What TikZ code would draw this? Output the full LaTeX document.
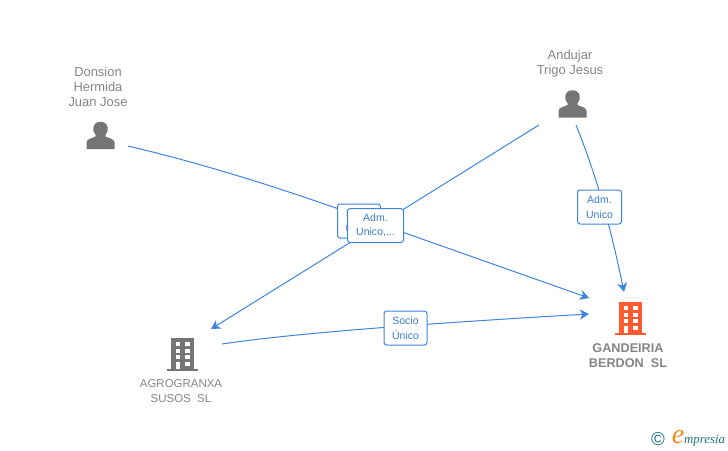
\documentclass[tikz,border=0pt]{standalone}
\usepackage{fontspec}
\setmainfont{Liberation Sans}
\newfontfamily\logofont{Liberation Serif}
\definecolor{linkblue}{HTML}{3D85E0}
\definecolor{labelblue}{HTML}{3A7CCB}
\definecolor{icongray}{HTML}{757575}
\definecolor{textgray}{HTML}{858585}
\definecolor{firmred}{HTML}{FF5A30}
\definecolor{logoteal}{HTML}{1F6F85}
\definecolor{logoorange}{HTML}{F28A1C}
\usetikzlibrary{arrows.meta}
\tikzset{
  link/.style={draw=linkblue,line width=0.75pt},
  arrowlink/.style={link,-{Stealth[length=6.8pt,width=7.5pt,inset=2pt]}},
  tagbox/.style={draw=linkblue,fill=white,rounded corners=2pt,line width=0.75pt,
    text=labelblue,font=\fontsize{7.9pt}{11pt}\selectfont,align=center,inner sep=0pt},
  person/.style={font=\fontsize{9.7pt}{11.3pt}\selectfont,text=textgray,align=center,inner sep=0pt},
  firm/.style={font=\fontsize{8.6pt}{11pt}\selectfont,text=textgray,align=center,inner sep=0pt},
  firmbold/.style={font=\bfseries\fontsize{9.5pt}{11.2pt}\selectfont,text=textgray,align=center,inner sep=0pt},
}
\newcommand{\personicon}[2]{%
  \fill[icongray,shift={(#1,#2)}] (-14,14) -- (-14,7.5) .. controls (-14,4) and (-9,3.5) .. (-5,1.5)
    -- (-5,-0.5) .. controls (-7.5,-3) and (-7.5,-6) .. (-7,-8)
    .. controls (-6,-15) and (6,-15) .. (7,-8)
    .. controls (7.5,-6) and (7.5,-3) .. (5,-0.5) -- (5,1.5)
    .. controls (9,3.5) and (14,4) .. (14,7.5) -- (14,14) -- cycle;}
\newcommand{\buildingicon}[3]{%
  \begin{scope}[shift={(#1,#2)}]
    \fill[#3] (-11.5,-16.5) rectangle (11.5,14.5);
    \fill[#3] (-15.5,14) rectangle (15.5,16.5);
    \foreach \yy in {-12.5,-5.8,0.9} {
      \fill[white] (-7,\yy) rectangle (-2.8,{\yy+3.9});
      \fill[white] (2.6,\yy) rectangle (7,{\yy+3.9});
    }
    \fill[white] (-7,7.6) rectangle (-2.8,14);
    \fill[white] (2.6,7.6) rectangle (7,11.5);
  \end{scope}}
\begin{document}
\begin{tikzpicture}[x=0.75pt,y=-0.75pt]
\useasboundingbox (0,0) rectangle (728,450);
\fill[white] (0,0) rectangle (728,450);
\coordinate (donsionend) at (128,146);
\coordinate (andujarleft) at (539,125);
\coordinate (andujarright) at (576,125);
\coordinate (agroin) at (211,329);
\coordinate (agroout) at (222,344);
\coordinate (gandtop) at (624,292);
\coordinate (gandmid) at (589,298);
\coordinate (gandlow) at (589,314);
\draw[arrowlink] (donsionend) .. controls (230,170) and (330,205) .. (405,233) -- (gandmid);
\draw[arrowlink] (andujarleft) -- (agroin);
\draw[arrowlink] (andujarright) .. controls (590,160) and (606,205) .. (gandtop);
\draw[arrowlink] (agroout) .. controls (290,334) and (400,325) .. (gandlow);
\node[tagbox,minimum width=43pt*0.75,minimum height=34pt*0.75] (tagsocioa) at (359,221) {Socio\hspace{2pt}\\Único\hspace{2pt}};
\node[tagbox,minimum width=56pt*0.75,minimum height=34pt*0.75] (tagadma) at (375.5,225.5) {Adm.\\Unico,...};
\node[tagbox,minimum width=44pt*0.75,minimum height=34pt*0.75] (tagadmb) at (599.5,207) {Adm.\\Unico};
\node[tagbox,minimum width=43pt*0.75,minimum height=34pt*0.75] (tagsociob) at (405.5,328) {Socio\\Único};
\personicon{100.5}{135}
\personicon{572.5}{103.5}
\node[person] (donsion) at (98,87) {Donsion\\Hermida\\Juan Jose};
\node[person] (andujar) at (570,63.5) {Andujar\\Trigo Jesus};
\buildingicon{182.5}{354.5}{icongray}
\buildingicon{630.5}{318.5}{firmred}
\node[firm] (agro) at (181,391) {AGROGRANXA\\SUSOS\ \ SL};
\node[firmbold] (gand) at (628,355.5) {GANDEIRIA\\BERDON\ \ SL};
\node[inner sep=0pt,text=logoteal,font=\fontsize{14pt}{14pt}\selectfont] (copy) at (658,439) {©};
\node[inner sep=0pt,anchor=base west,text=logoteal,font=\logofont\itshape\fontsize{9.6pt}{10pt}\selectfont] (logo) at (671.5,443.5) {{\color{logoorange}\fontsize{21pt}{21pt}\selectfont e}mpresia};
\end{tikzpicture}
\end{document}
